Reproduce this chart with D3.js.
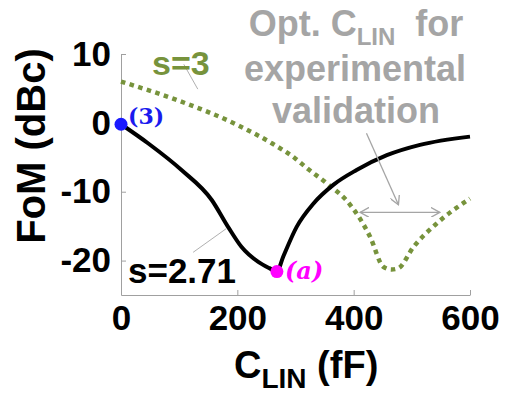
<!DOCTYPE html>
<html>
<head>
<meta charset="utf-8">
<script src="https://cdn.jsdelivr.net/npm/d3@7"></script>
<style>
  body { margin: 0; background: #fff; }
  text { font-family: Arial, "Liberation Sans", sans-serif; font-weight: bold; }
</style>
</head>
<body>
<svg id="chart" width="508" height="394"></svg>
<script>
// C_LIN (fF) vs FoM (dBc)
const blackX = [0, 47, 104, 156, 184, 207, 236, 255, 268, 279, 302, 331, 365, 405, 457, 514, 600];
const blackY = [-0.2, -3.0, -6.85, -11.2, -15.1, -18.0, -20.2, -21.1, -21.6, -19.4, -15.1, -11.7, -9.0, -6.85, -4.7, -3.2, -2.0];

const greenX = [0, 100, 200, 260, 300, 320, 354, 394, 428, 451, 465, 477, 503, 543, 600];
const greenY = [6.0, 3.2, -0.3, -3.0, -5.2, -6.6, -8.8, -11.9, -16.5, -20.9, -21.3, -21.1, -18.0, -14.6, -11.0];

const xTicks = [0, 200, 400, 600];
const yTicks = [-20, -10, 0, 10];

const svg = d3.select('#chart');

const xScale = d3.scaleLinear().domain([0, 600]).range([121, 470]);
const yScale = d3.scaleLinear().domain([-25, 10]).range([295, 54]);

const axisGray = '#a0a0a0';

// axes, ticks point inwards like matlab
const xAxis = svg.append('g')
  .attr('transform', `translate(0, ${yScale(-25)})`)
  .call(d3.axisBottom(xScale)
    .tickValues(xTicks)
    .tickSizeInner(-5)
    .tickSizeOuter(0)
    .tickPadding(10)
    .tickFormat(d => String(d)));

const yAxis = svg.append('g')
  .attr('transform', `translate(${xScale(0)}, 0)`)
  .call(d3.axisLeft(yScale)
    .tickValues(yTicks)
    .tickSizeInner(-5)
    .tickSizeOuter(0)
    .tickPadding(10)
    .tickFormat(d => String(d)));

[xAxis, yAxis].forEach(a => {
  a.select('.domain').attr('stroke', axisGray);
  a.selectAll('.tick line').attr('stroke', axisGray);
  a.selectAll('.tick text')
    .attr('fill', '#000')
    .style('font-size', '35px')
    .style('font-family', 'Arial, "Liberation Sans", sans-serif')
    .style('font-weight', 'bold');
});

const line = d3.line()
  .x(d => xScale(d[0]))
  .y(d => yScale(d[1]));

const blackData = blackX.map((x, i) => [x, blackY[i]]);
const greenData = greenX.map((x, i) => [x, greenY[i]]);

svg.append('path')
  .datum(greenData)
  .attr('fill', 'none')
  .attr('stroke', '#77933c')
  .attr('stroke-width', 4.5)
  .attr('stroke-dasharray', '4.5,4.5')
  .attr('d', line.curve(d3.curveMonotoneX));

svg.append('path')
  .datum(blackData)
  .attr('fill', 'none')
  .attr('stroke', '#000')
  .attr('stroke-width', 4)
  .attr('d', line.curve(d3.curveMonotoneX));

// leader lines for the s labels
const leader = (x1, y1, x2, y2) => svg.append('line')
  .attr('x1', xScale(x1)).attr('y1', yScale(y1))
  .attr('x2', xScale(x2)).attr('y2', yScale(y2))
  .attr('stroke', '#b0b0b0')
  .attr('stroke-width', 1);

leader(108, 8.5, 132, 4.9);
leader(124, -18.8, 182, -15.3);

svg.append('text')
  .attr('x', 152)
  .attr('y', 75)
  .attr('fill', '#77933c')
  .style('font-size', '34px')
  .text('s=3');

svg.append('text')
  .attr('x', 128)
  .attr('y', 283)
  .attr('fill', '#000')
  .style('font-size', '35px')
  .text('s=2.71');

// marked points
const start = blackData[0];
const best = blackData[8];

svg.append('circle')
  .attr('cx', xScale(start[0]))
  .attr('cy', yScale(start[1]))
  .attr('r', 6.5)
  .attr('fill', '#1a1aff');

svg.append('text')
  .attr('x', 128)
  .attr('y', 124)
  .attr('fill', '#1a1aee')
  .style('font-family', '"DejaVu Serif", serif')
  .style('font-size', '22px')
  .text('(3)');

svg.append('circle')
  .attr('cx', xScale(best[0]))
  .attr('cy', yScale(best[1]))
  .attr('r', 6.5)
  .attr('fill', '#ff00ff');

svg.append('text')
  .attr('x', 285)
  .attr('y', 279)
  .attr('fill', '#ff00ff')
  .style('font-family', '"DejaVu Serif", serif')
  .style('font-style', 'italic')
  .style('font-size', '24px')
  .text('(a)');

// annotation
const annGray = '#a5a5a5';

svg.append('defs').append('marker')
  .attr('id', 'arrow')
  .attr('viewBox', '0 0 10 10')
  .attr('refX', 9)
  .attr('refY', 5)
  .attr('markerWidth', 10)
  .attr('markerHeight', 10)
  .attr('markerUnits', 'userSpaceOnUse')
  .attr('orient', 'auto-start-reverse')
  .append('path')
  .attr('d', 'M0,0 L9,5 L0,10')
  .attr('fill', 'none')
  .attr('stroke', annGray)
  .attr('stroke-width', 1.3);

svg.append('line')
  .attr('x1', xScale(422)).attr('y1', yScale(-1.5))
  .attr('x2', xScale(477)).attr('y2', yScale(-11.9))
  .attr('stroke', annGray)
  .attr('stroke-width', 1.3)
  .attr('marker-end', 'url(#arrow)');

svg.append('line')
  .attr('x1', xScale(411)).attr('y1', yScale(-13))
  .attr('x2', xScale(548)).attr('y2', yScale(-13))
  .attr('stroke', annGray)
  .attr('stroke-width', 1.3)
  .attr('marker-start', 'url(#arrow)')
  .attr('marker-end', 'url(#arrow)');

const t1 = svg.append('text')
  .attr('x', 356)
  .attr('y', 36)
  .attr('text-anchor', 'middle')
  .attr('fill', annGray)
  .style('font-size', '36px');
t1.append('tspan').text('Opt. C');
t1.append('tspan').attr('dy', 9).style('font-size', '24px').text('LIN');
t1.append('tspan').attr('dy', -9).text('\u00a0 for');

svg.append('text')
  .attr('x', 355)
  .attr('y', 81)
  .attr('text-anchor', 'middle')
  .attr('fill', annGray)
  .style('font-size', '36px')
  .text('experimental');

svg.append('text')
  .attr('x', 356)
  .attr('y', 123)
  .attr('text-anchor', 'middle')
  .attr('fill', annGray)
  .style('font-size', '36px')
  .text('validation');

// axis titles
svg.append('text')
  .attr('transform', 'translate(45, 146) rotate(-90)')
  .attr('text-anchor', 'middle')
  .attr('fill', '#000')
  .style('font-size', '40px')
  .text('FoM (dBc)');

const xl = svg.append('text')
  .attr('x', 234)
  .attr('y', 378)
  .attr('fill', '#000')
  .style('font-size', '38px');
xl.append('tspan').text('C');
xl.append('tspan').attr('dy', 10).style('font-size', '28px').text('LIN');
xl.append('tspan').attr('dy', -10).text(' (fF)');
</script>
</body>
</html>
